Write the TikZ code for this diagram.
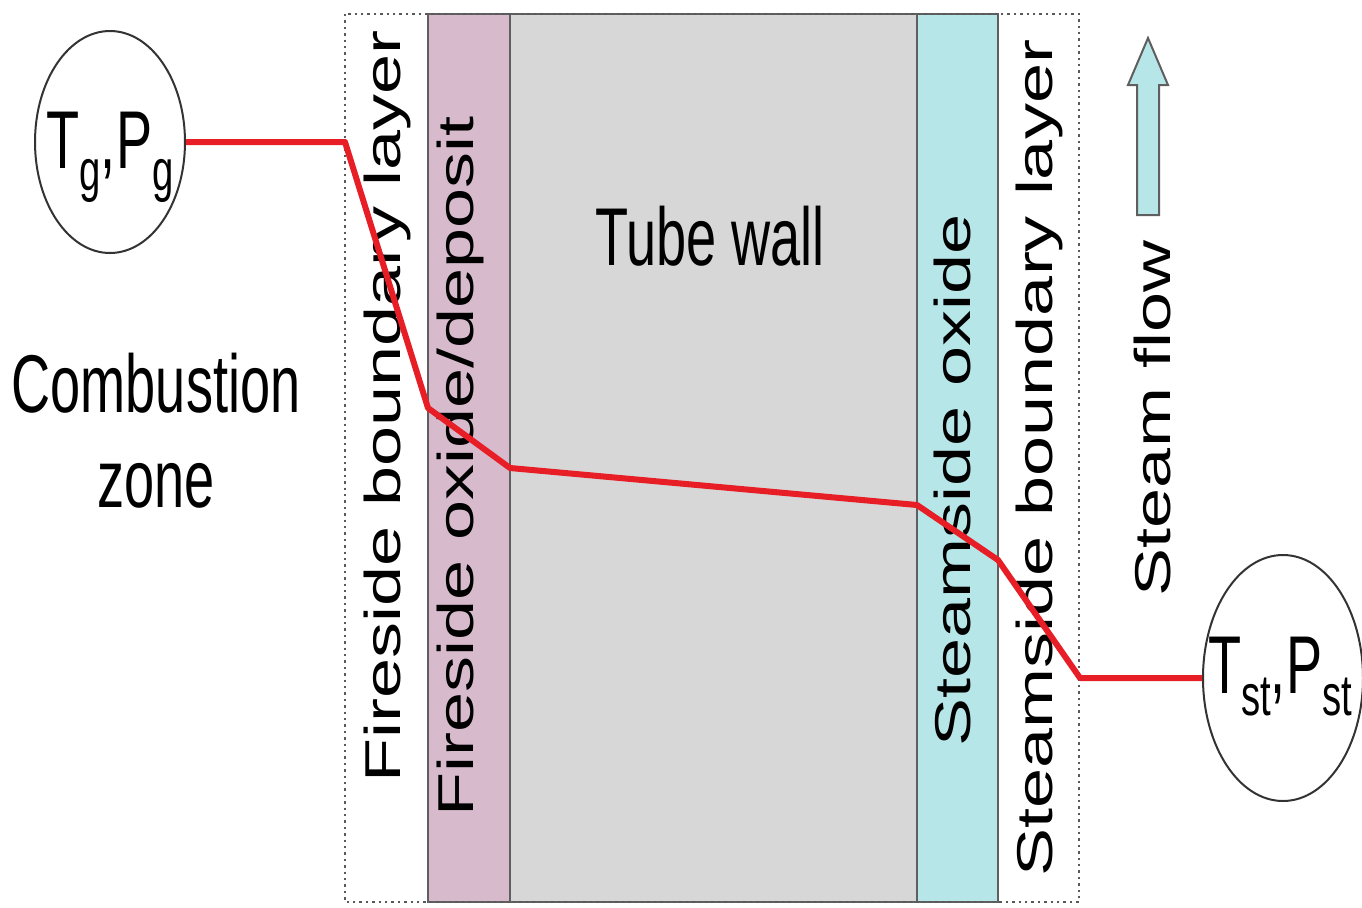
\documentclass[tikz,border=0pt]{standalone}
\usepackage{fontspec}
\setmainfont{Liberation Sans}
\usetikzlibrary{shapes.geometric, positioning}
\definecolor{oxidepink}{RGB}{215,187,205}
\definecolor{wallgray}{RGB}{215,215,215}
\definecolor{steamcyan}{RGB}{182,230,231}
\definecolor{edgegray}{RGB}{95,95,95}
\definecolor{tempred}{RGB}{232,30,38}
% squeezed text, as in the drawing
\newcommand{\hsq}[1]{\scalebox{0.66}[1]{#1}}
\newcommand{\vsq}[1]{\scalebox{1}[0.7]{#1}}
\newcommand{\lowsub}[1]{\raisebox{-11pt}{\fontsize{29}{30}\selectfont #1}}

\begin{document}
\begin{tikzpicture}[x=0.5pt, y=-0.5pt,
		bigtext/.style={font=\fontsize{41}{49}\selectfont, inner sep=0pt, anchor=base},
		sidetext/.style={font=\fontsize{36}{43}\selectfont, inner sep=0pt, rotate=90, anchor=base},
		band/.style={draw=edgegray, line width=1pt},
		state/.style={ellipse, draw=black!80, line width=1pt, inner sep=0pt},
		templine/.style={tempred, line width=3pt, line join=round}]
		\useasboundingbox (0,0) rectangle (1362,907);
		% layers
		\foreach \xa/\xb/\col in {428/510/oxidepink, 510/917/wallgray, 917/998/steamcyan}{
			\draw [band, fill=\col] (\xa,14) rectangle (\xb,902);
		}
		\draw [black!65, dotted, line width=1.2pt] (345,14) rectangle (1079,902);
		% gas and steam states
		\node [state, minimum width=75pt, minimum height=111pt] (gas) at (110,142) {};
		\node [state, minimum width=80pt, minimum height=123pt] (steam) at (1283,678) {};
		\node [bigtext] (gaslbl) at (110,168) {\hsq{T\lowsub{g},P\lowsub{g}}};
		\node [bigtext] (steamlbl) at (1280,693) {\hsq{T\lowsub{st},P\lowsub{st}}};
		% labels:
		\node [bigtext] (combust) at (156,412) {\hsq{Combustion}};
		\node [bigtext] (zone) at (156,507) {\hsq{zone}};
		\node [bigtext] (wall) at (710,265) {\hsq{Tube wall}};
		\node [sidetext] (fireblayer) at (400,406) {\vsq{Fireside boundary layer}};
		\node [sidetext] (firedep) at (473,466) {\vsq{Fireside oxide/deposit}};
		\node [sidetext] (steamox) at (970,480) {\vsq{Steamside oxide}};
		\node [sidetext] (steamblayer) at (1052,458) {\vsq{Steamside boundary layer}};
		\node [sidetext] (flowlbl) at (1170,418) {\vsq{Steam flow}};
		% steam flow arrow
		\draw [edgegray, fill=steamcyan, line width=1pt, line join=miter]
			(1137,215) -- (1137,85) -- (1128,85) -- (1148,38) -- (1168,85) -- (1159,85) -- (1159,215) -- cycle;
		% temperature drop
		\coordinate (outfire) at (345,142);
		\coordinate (indep) at (428,408);
		\coordinate (outdep) at (510,468);
		\coordinate (inox) at (917,505);
		\coordinate (outox) at (998,560);
		\coordinate (outsteam) at (1080,678);
		\draw [templine] (gas.east) -- (outfire) -- (indep) -- (outdep) -- (inox) -- (outox) -- (outsteam) -- (steam.west);
	\end{tikzpicture}
\end{document}
